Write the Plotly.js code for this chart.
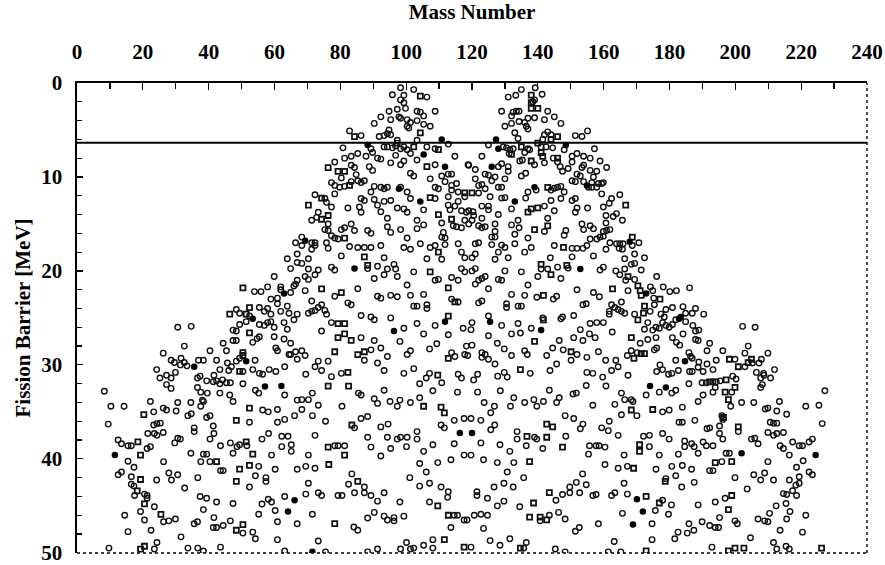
<!DOCTYPE html>
<html>
<head>
<meta charset="utf-8">
<script src="https://cdn.plot.ly/plotly-3.0.1.min.js"></script>
<style>html,body{margin:0;padding:0;background:#fff;}#chart{width:885px;height:565px;}</style>
</head>
<body>
<div id="chart"></div>
<script>
// Mass number (A) and fission barrier (MeV) pairs
const circles = [
[98.3,0.5],[102.3,0.7],[95.8,1.25],[99.3,1.3],[106.3,1.5],[98.3,1.8],[99.3,2.1],[99.8,2.7],[97.3,2.8],[103.3,3],[104.3,3.1],[108.8,3],[94.8,3],[105.3,3.5],[92.3,3.6],[97.8,3.6],[95.3,3.9],[98.3,3.75],[100.3,3.9],[103.3,4],[90.3,4.3],[101.3,4.2],[105.3,4.4],[107.3,4.6],[100.8,4.8],[100.3,4.6],[94.8,5],[82.8,5.1],[94.3,5.4],[95.3,5.5],[91.8,5.7],[93.3,5.6],[86.3,5.6],[103.3,6.1],[97.3,6.1],
[97.3,6.4],[112.8,6.5],[80.8,6.9],[89.3,7],[93.3,6.8],[94.3,6.8],[95.8,6.9],[96.8,6.7],[98.3,7],[99.3,6.8],[100.3,7.1],[106.3,6.8],[108.8,7],[101.3,7.5],[89.8,7.4],[85.3,7.5],[96.8,7.7],[114.8,7.8],[83.3,7.8],[81.3,8],[87.8,7.8],[91.3,8],[92.3,8.1],[103.3,8.2],[99.3,8.3],[78.3,8.4],[95.3,8.5],[98.3,8.7],[108.8,8.7],[118.8,8.7],[83.3,8.75],[84.3,9],[88.8,8.9],[89.8,9.3],[101.3,9.6],[102.3,9.9],[110.8,9.9],[112.8,9.7],[113.8,9.7],[84.8,9.75],
[80.3,10.1],[83.3,10.5],[85.3,10.4],[86.3,10.6],[87.3,10.4],[107.3,10.2],[111.8,10.5],[77.3,10.6],[78.3,10.9],[79.8,11.1],[81.3,11],[90.3,11],[92.3,11.1],[93.3,11.25],[94.3,11.1],[98.3,11.1],[108.8,11.1],[109.8,11.25],[113.8,10.9],[115.3,10.7],[113.8,11.4],[89.3,11.6],[100.3,11.6],[112.8,12.1],[115.8,11.6],[72.3,11.9],[117.8,12.1],[78.3,11.8],[75.3,12.3],[75.8,12.7],[86.3,12.3],[87.3,12.5],[90.3,12.4],[93.3,12.6],[95.3,12.5],[101.3,12.3],[108.8,12.3],[115.8,12.6],
[77.3,13.2],[82.3,13.3],[85.8,13.2],[91.3,13],[97.3,13.3],[99.3,13.4],[105.3,13.5],[112.8,13],[113.3,13.5],[114.8,13.1],[116.8,13.6],[118.3,13.75],[73.3,13.75],[86.3,13.75],[92.3,13.7],[100.3,13.75],[71.3,14.6],[72.8,14.3],[94.3,14.4],[117.8,14.6],[103.3,14.6],[76.3,15],[83.3,15],[81.3,15.4],[94.3,15.3],[105.3,15.1],[110.8,14.9],[114.3,15.2],[115.3,15.3],[116.8,15.4],[75.3,15.6],[76.3,15.7],[80.3,15.6],[84.3,15.7],[88.3,15.7],[89.3,16],[98.3,15.6],[103.3,15.5],[95.3,15.9],[111.3,15.9],[110.8,16.4],
[77.3,16.25],[78.3,16.5],[79.3,16.6],[68.3,16.4],[100.3,16.5],[111.8,16.5],[66.4,17],[71.3,17],[72.3,17],[75.8,17],[68.3,17.3],[71.3,17.7],[72.3,17.3],[76.3,17.6],[82.8,17.4],[85.3,17.5],[87.3,17.5],[89.3,17.5],[92.3,17.3],[99.3,17.5],[101.3,17.7],[104.3,17.1],[107.3,17.5],[108.8,17.3],[111.8,17.2],[115.8,17.1],[116.8,18],[66.9,18.2],[80.3,18.4],[117.8,18.6],[63.9,18.7],[70.3,18.7],[93.3,18.6],[106.3,18.7],[110.8,18.75],[66.9,19.1],[68.3,19.2],[96.3,19.3],[91.3,19.5],[77.3,19.6],[64.9,19.75],[70.3,19.8],[73.3,19.9],[78.3,19.9],[88.3,19.75],[94.3,19.8],[96.8,19.8],[116.8,19.75],
[102.3,20.1],[117.8,20.1],[72.3,20.4],[93.3,20.4],[97.3,20.6],[59.9,20.6],[69.3,20.6],[70.3,20.9],[90.3,20.8],[108.8,21],[109.8,20.9],[113.8,20.7],[115.8,21],[66.9,21],[100.3,21.5],[57.9,21.7],[61.9,21.7],[65.9,21.6],[66.4,21.4],[61.9,22],[64.9,22.3],[53.9,22.2],[55.9,22.2],[69.3,22.1],[85.3,21.9],[78.3,22.7],[91.3,22.7],[92.3,22.9],[95.3,22.6],[97.3,22.75],[101.3,22.6],[105.3,22.5],[113.8,23],[115.8,23.3],[60.9,22.9],[58.9,23],[60.9,23.5],[71.3,23.2],[82.3,23.4],[83.3,23.6],[102.3,23.75],[103.3,23.75],[106.3,23.6],[106.3,24],[55.4,23.9],[57.9,24],[63.9,23.75],[74.3,23.6],[73.3,23.9],
[48.4,24.1],[49.4,24.5],[52.4,24.8],[56.9,24.3],[58.9,24.6],[61.9,24.3],[64.4,24.5],[66.9,24.6],[70.3,24.5],[71.3,24.3],[72.3,24.2],[75.3,24.2],[75.8,24.6],[86.3,24.75],[89.3,24.9],[95.3,25],
[139.2,0.5],[135,0.7],[131,1.5],[133.3,1.3],[141.3,1.2],[139,1.8],[138.5,2],[129,3],[132.5,3.1],[133.5,3],[134.3,3],[132,3.5],[143,3],[145,3.6],[137,3.75],[139,3.7],[142,3.9],[130,4.6],[132,4.3],[134.3,4.1],[136,4.2],[136.5,4.6],[137,4.9],[147,4.3],[133,5.3],[143,5.2],[142,5.5],[144,5.5],[134,5.9],[151.4,5.6],[153.4,5.7],[155.1,5.1],[141.5,6],
[125,6.6],[129.5,6.8],[130.5,6.9],[131.5,7.1],[132.5,7],[137,7],[137.5,7.1],[136,7.4],[141,6.8],[142.5,6.8],[144.5,6.9],[148,7.1],[131.3,7.5],[134.5,8.3],[135.3,8.2],[139,8.7],[142,8.5],[144.7,8],[146,8.4],[150.4,7.8],[150.4,8.4],[151.9,7.5],[153.9,7.8],[155.9,8],[157.2,7],[158.9,8.3],[123,7.8],[119,8.75],[121,9.2],[128,8.9],[129,8.6],[131,8.9],[131,9.4],[146.8,8.9],[147.5,9.4],[149.2,9.1],[153.4,9],[153.9,8.75],[155.9,9.3],[157.9,9.4],[160.9,9],[124,9.7],[125,9.8],[127,10],[135,9.9],[136.3,9.6],[151.9,9.7],[152.9,9.9],[156.9,10],
[121,10.2],[126,10.4],[130,10.2],[150.4,10.4],[151.4,10.5],[153.9,10.5],[156.4,10.6],[158.4,10.7],[159.9,10.6],[122,10.9],[123,10.8],[124,11.25],[128,11.1],[129,11.1],[139.5,11.4],[144,11.4],[145,11.2],[146,11.1],[147,11],[155.4,11.1],[156.4,11.1],[157.9,11.1],[159.4,10.7],[122,11.7],[137,11.6],[148,11.6],[159.4,11.8],[164.9,11.9],[125.5,12.1],[129,12.25],[130,12.2],[136.3,12.25],[144,12.5],[147,12.3],[150.4,12.5],[151.4,12.3],[162.4,12.3],[161.7,12.8],
[119,13.6],[120.3,13.7],[123,13.1],[125,13.1],[125,13.5],[132,13.4],[142,13.1],[145,13.6],[151.4,13.75],[151.9,13.3],[155.1,13.3],[159.9,13.2],[128,14],[120.5,14.1],[123,14.4],[120,14.6],[143,14.4],[134,14.6],[160.7,14.1],[162.9,14.2],[163.9,13.9],[165.7,14.6],[160.7,14.9],[119,15],[122,15.2],[123,15.4],[124,15.3],[127,15],[132,15.1],[134.3,15.4],[142,15.8],[153.4,15],[155.9,15.2],[156.9,15.5],[159.9,15.8],[160.9,15.7],[161.9,15.6],[153.9,15.6],[148.5,15.7],[127,15.8],[133,16.1],[148,16.2],[126,16.4],[127,16.4],[137,16.5],[155.9,16.6],[157.9,16.6],[158.9,16.4],[159.9,16.3],
[122,17],[121,17.1],[126,17.2],[129,17.25],[130,17.5],[133,17.1],[138,17.5],[136,18],[145,17.3],[150.4,17.6],[151.9,17.6],[153.7,17.6],[154.9,17.3],[160.7,17.7],[161.9,17],[163.9,17.1],[164.9,17.1],[165.9,17.1],[164.7,17.6],[165.7,17.7],[168.7,17.3],[170.7,17],[120,18.6],[121,18.2],[127,18.75],[128,18],[131,18.6],[143.8,18.6],[150.4,18.5],[156.9,18.4],[166.4,18.7],[169.4,18.2],[172.4,18.6],[141,19.8],[143,19.8],[146,19.6],[149.2,19.7],[158.9,19.9],[159.9,19.6],[120,20],[121,19.75],[130,20],[135,20.1],[163.7,20],[164.9,20.4],[166.4,19.8],[168.4,19.3],[169.4,19.2],[171.4,19.9],
[121,21.4],[122,21],[123,20.8],[124,20.6],[128,20.9],[129,21],[140,20.6],[147,20.8],[166.7,21],[169.4,20.9],[176.1,20.6],[125,21.9],[137,21.5],[151.9,22],[156.9,22.3],[167.4,22.1],[174.2,21.7],[174.9,22.1],[178.1,21.7],[180.1,22.2],[182.1,22.1],[186.1,21.8],[132,22.5],[136,22.6],[139.7,22.8],[144.7,23],[145.7,22.7],[158.7,22.75],[175.2,22.9],[122,23.4],[123,23.2],[130.5,23.5],[130.5,23.9],[134,23.75],[135,23.75],[153.7,23.6],[154.7,23.5],[162.4,23.6],[163.4,23.9],[165.4,23.3],[175.4,23.6],[178.9,24.1],[180.9,23.9],[184.1,23.8],[161.7,24.3],[161.7,24.6],[164.4,24.1],[165.4,24.3],[166.4,24.5],[169.4,24.6],[174.1,24.3],[177.4,24.6],[178.4,24.9],[184.9,24.5],[186.9,24.5],[187.9,24],[190.4,24.6],[125,24.8],[141.5,25],[147.5,24.9],[150.9,24.75],
[49.4,25.7],[51.4,25.4],[55.4,25.7],[56.9,25.8],[57.9,25.5],[58.9,25.4],[59.9,26],[62.9,25.5],[63.9,26.2],[65.9,25.2],[77.3,25.5],[90.3,25.2],[99.3,26.1],[103.3,25.6],[108.8,25.8],[117.3,26.1],[30.6,26],[34.7,25.9],[47.4,26.3],[48.4,26.4],[55.4,27],[54.7,27.2],[53.4,27.6],[59.9,27],[62.9,27.25],[64.9,27.7],[74.3,26.4],[86.3,27.1],[90.3,27.4],[98.1,27.5],[105.3,26.7],[109.3,27.75],[112.8,26.8],[118.3,28],[32.6,28],[44.4,27.7],[47.4,27.4],[48.4,27.4],[40.4,28.5],[45.4,28.5],[49.4,29.3],[60.4,28.2],[60.9,28.5],[64.4,28.9],[64.9,28.9],[66.4,28.6],[68.3,28.5],[69.3,29],[66.9,29.4],[89.3,28.4],[92.3,28.2],[87.3,29.5],[94.3,29.1],[100.3,28.9],[101.3,28.5],[107.1,28.3],[113.8,28.7],[114.8,29.1],[117.8,28.9],
[26.2,28.75],[28.6,29.5],[29.6,29.75],[31.6,29.3],[32.6,29.75],[33.4,30.1],[31.4,30],[36.9,29.5],[38.4,29.5],[42.4,29.5],[45.7,29.8],[48.4,29.6],[46.9,30.2],[43.4,30.5],[46.1,30.6],[50.4,30.7],[53.4,30.5],[54.1,29.5],[55.4,30.9],[56.4,31],[58.4,30.5],[60.4,30.7],[63.1,30.2],[72.3,30.2],[73.3,29.6],[74.3,30.6],[76.3,29.6],[80.3,30.9],[91.3,29.8],[93.3,30.6],[99.3,30.9],[102.3,30.4],[107.1,30.9],[115.8,31],[116.8,31.4],[110.8,31.9],[24.2,30.5],[25.2,31.4],[27.2,31.1],[28.6,31.4],[29.9,30.8],[36.6,31.4],[37.4,31.2],[39.4,31.7],[41.6,31.1],[42.4,31.7],[44.2,31.6],[45.4,31.9],[46.6,31.9],[43.4,32],[41.4,31.8],[50.4,32],[69.5,31],[77.3,31.25],[104.1,32],[106.1,31.4],[108.1,32.75],[115.6,32.9],
[27.2,32.1],[28.6,32.5],[36.6,32.4],[37.6,32.9],[39.6,33],[43.4,33],[46.4,33.2],[54.2,32.7],[55.2,33],[63.1,33.2],[71.5,33],[85.5,33],[86.3,33.2],[93.3,32.7],[8.3,32.8],[10.3,34.4],[14.3,34.4],[22.3,33.9],[23.3,35],[26.2,34.6],[27.2,34.8],[30.6,34],[30.1,34.9],[34.6,34],[33.7,35.4],[34.7,35.2],[37.6,34.4],[38.4,33.9],[38.1,33.75],[39.4,35.6],[40.4,35.4],[41.4,36.5],[47.4,33.9],[52.4,36.1],[56.4,34.8],[58.1,35],[60.9,34.75],[60.9,36.1],[63.1,35.8],[66.1,35.4],[66.9,33.75],[68.3,33.7],[70.3,33.7],[68.3,34.75],[71.5,35.4],[73.3,34.3],[75.5,36],[80.5,34.4],[84.3,36.7],[86.3,35.7],[88.3,35.5],[90.3,33.6],[91.3,34.1],[95.1,33.9],[97.3,34.4],[98.1,33.75],[101.3,34],[104.1,33.5],[114.6,35.9],[117.6,35.7],[110.6,36.4],[111.6,36.7],[92.3,36.6],[94.5,36.3],
[9.5,36.3],[12.5,38],[13.5,38.4],[15.5,38.6],[16.5,38.6],[21.3,38.9],[22.3,38.7],[21.5,37.3],[23.3,36.4],[24.3,36.25],[25.3,36.2],[24.3,37.5],[23.5,37.3],[26.2,37.2],[29.7,38.3],[30.6,37.8],[31.4,37.9],[35.6,36.7],[35.6,37.1],[34.6,39.4],[38.4,39.5],[39.4,39.5],[37.6,40.3],[40.4,40.3],[40.4,37.9],[41.6,37.3],[43.6,38.6],[46.6,38.3],[47.4,39.4],[48.6,38.7],[49.4,38.5],[51.6,38.6],[56.2,37.9],[58.2,37.3],[62.2,37.6],[64.1,37.6],[62.2,38.7],[65.1,38.5],[65.1,39.2],[59.1,39.6],[72.3,37.5],[70.3,39.6],[78.3,38.6],[79.3,38.6],[81.3,38.6],[88.3,37.7],[89.3,38.75],[92.3,39.7],[94.3,37.7],[95.3,38.9],[97.3,37.9],[98.3,37.7],[100.3,37.7],[100.1,38.7],[103.3,37.1],[103.3,37.9],[105.3,39.2],[108.1,38.5],[113.6,40.1],[114.6,38.4],[117.6,39.6],
[15.5,40.25],[17.3,40.9],[12.5,41.7],[13.5,41.4],[16.5,41.9],[16.5,42.7],[17.3,42.9],[17.5,43.9],[20.5,43.75],[21.3,43.9],[21.3,44.2],[19.3,45.6],[23.5,45.1],[20.5,46.5],[22.5,47.6],[26.3,46.7],[27.9,46.6],[29.9,46.4],[24.2,42.25],[26.3,40.3],[27.9,41.5],[28.7,42.25],[30.6,41.7],[32.7,43.1],[37.4,44],[39.4,44.2],[36.7,42],[38.4,45.4],[35.6,46.9],[36.6,46.7],[14.5,46],[15.5,47.75],[9.7,49.5],[23.5,49.6],[24.3,48.9],[31.6,48.3],[33.7,49.5],[36.7,49.5],[38.4,49.8],[43.6,49.4],[42.4,44.6],[43.6,41.25],[44.4,41.25],[41.6,46.25],[41.4,47.3],[42.4,47.3],[44.4,47.1],[46.6,46.6],[47.4,44.75],[52.4,43],[54.2,41.8],[55.2,40.8],[57.4,42],[57.4,42.4],[60.2,41.1],[56.2,44.8],[55.2,45.9],[58.1,44.3],[59.1,44.6],[60.2,45.5],[60.9,46.7],[63.1,44],[66.9,46.9],[50.4,47.9],[53.4,47.8],[54.2,48.5],[60.9,48.6],[63.1,49.8],
[66.9,41.1],[69.5,40.8],[70.3,42.6],[69.5,43.75],[72.3,41],[73.3,43.6],[74.3,43.9],[71.5,45.9],[73.3,48.75],[75.5,49.9],[79.3,43.9],[80.5,43.9],[82.5,42.7],[83.5,41.6],[84.3,43.6],[84.1,47.25],[85.3,47.6],[87.3,43.6],[87.3,43],[88.3,46.3],[89.3,43.9],[90.3,45.7],[91.3,44.5],[93.3,43.6],[93.3,46.1],[94.3,46.5],[96.3,46.25],[96.3,46.6],[98.1,44.6],[99.3,46.1],[98.3,49.6],[91.3,49.6],[88.3,49.9],[100.1,48.9],[101.1,42],[101.3,49.6],[102.3,49.5],[104.1,40.5],[104.1,42.9],[106.1,41.4],[107.1,42.6],[107.1,44.6],[108.1,48.6],[109.6,40.4],[110.6,43],[112.6,44.1],[112.8,43.5],[113.6,47.3],[114.6,46],[115.6,46],[117.6,46.5],[108.1,49.5],[105.3,49.2],
[120,25.5],[129,25.8],[134,25.6],[138,26.1],[147,25.1],[155.9,25.6],[157.9,25.5],[159.9,25.5],[152.9,26.25],[155.7,26.7],[162.6,26.5],[173.4,25.5],[172.4,26.2],[174.9,26.3],[175.9,26],[176.9,26.1],[177.9,25.5],[178.9,25.8],[179.9,26],[180.9,25.7],[181.9,25.2],[184.9,25.4],[187.1,25.8],[187.9,26.4],[188.9,26.3],[184.1,26.7],[202.2,25.9],[206,26],[119.7,26.25],[125,26.9],[132,26.7],[134.7,26.6],[146.5,27.4],[150.9,27.1],[153.7,27.4],[157.4,27.1],[171.1,27.7],[173.4,27.3],[175.9,27.1],[180.9,27.1],[182.1,27.6],[183.1,27.9],[187.9,27.3],[188.7,27.4],[192.2,27.7],
[120,27.9],[127.7,27.7],[129.8,28.3],[136,28.5],[136.8,28.9],[144.5,28.2],[147.7,28.4],[151.9,28.9],[158.4,28.6],[168.4,28.5],[167.2,29],[170.2,28.7],[175.4,28.4],[176.1,28.2],[185.9,28.7],[186.4,29.1],[186.9,29.3],[191.4,28.5],[196.2,28.5],[203.9,28],[202.9,28.75],[209.9,28.75],[118.7,29],[123,28.7],[124,28.9],[123,29.2],[125,29.4],[127,29.9],[132,29],[142.7,29],[145.7,29.9],[150.1,29.5],[154.9,29.2],[160.6,29.5],[163.7,29.5],[164.4,30.2],[181.9,29.5],[188.9,29.7],[191.4,29.9],[194.2,29.5],[199.9,29.4],[202.9,30.2],[205.2,29.8],[207.2,29.8],[207.9,29.4],[206.4,30.8],[208.6,30.9],[211.9,30.5],
[120.5,31.6],[121.7,31],[127.8,31.2],[129.8,30.8],[130.7,31.3],[137.7,30.9],[143.7,30.6],[154.9,30.8],[156.7,30.9],[159.7,31.3],[162.4,30.6],[167.4,31.1],[176.1,30.7],[177.1,30],[177.9,30.5],[179.7,31],[180.7,30.9],[182.7,30.6],[186.1,30.7],[186.9,30.7],[188.7,30.25],[190.2,30.7],[193.2,30.5],[195.4,31.7],[194.2,31.8],[193.2,31.8],[191.2,31.9],[189.9,31.9],[199.2,31.2],[200.2,31.5],[207.7,31.4],[208.7,31.1],[210.7,31.4],[185.9,32],[193.9,32.4],[208.2,32.1],[207.7,32.4],[227.2,32.75],[121.7,32.9],[128.6,32.75],[143.5,32.7],[150.7,33.1],[151.7,33],[154.7,32.2],[160.7,32.25],[165.4,33],[172.9,33.2],[176.9,32.9],[180.7,33],[181.9,32.7],[190.2,33.2],[193.2,32.9],[198.9,32.9],
[132.7,33.5],[138.8,33.7],[139.7,34.4],[141.7,33.9],[145.7,34],[146.5,33.5],[136,34],[131.7,34.4],[126.8,34.4],[123.7,34],[125.7,35.1],[156.7,34.3],[163.4,34.2],[166.4,33.7],[168.4,33.7],[168.9,33.9],[165.4,35.3],[170.1,35.4],[177.9,35],[179.9,34.8],[183.9,34.5],[188.7,33.9],[198.6,34.4],[201.9,34],[205.6,34],[213.4,33.9],[209.1,34.7],[209.9,34.6],[212.6,34.9],[215.6,35.25],[221.4,34.4],[225.4,34.3],
[119.7,35.7],[122.7,35.9],[125.7,36.9],[126.9,36.4],[133.7,37.1],[133.7,37.9],[139,37.7],[139.7,37.9],[148.3,35.4],[150.9,35.7],[152.9,36.8],[153.7,36.3],[148.5,37.6],[159.4,36.7],[161.7,36],[161.4,37],[164.4,37.5],[172.1,37.6],[173.9,37.5],[177.9,37.3],[179.9,37.9],[182.9,36.1],[183.9,36.1],[187.7,35.9],[191.4,36.8],[192.2,36.7],[195.2,36.5],[196.2,35.8],[195.9,35.4],[195.2,37.3],[196.2,37.9],[200.9,37.1],[204.9,37.9],[205.9,37.8],[206.9,38.4],[209.9,37.2],[210.6,36.1],[211.6,36.2],[212.6,36.2],[211.6,37.5],[212.6,37.3],[214.6,37.2],[213.6,38.6],[214.6,38.9],[217.4,38.2],[219.4,38.6],[220.4,38.6],[222.4,38.2],[223.4,37.9],[226.4,36.25],
[122.7,38.3],[128.5,38.5],[131.5,39.2],[136.5,38.6],[141.5,38.9],[155.4,39.5],[155.7,38.6],[157.7,38.6],[158.6,38.6],[160.4,38.75],[166.2,39.6],[173.9,38.7],[176.9,39.6],[182.7,39.5],[184.6,38.1],[184.6,38.7],[186.7,38.4],[187.5,38.7],[188.7,39.4],[190.2,38.2],[191.2,38.6],[193.2,38.6],[197.2,39.4],[198.2,39.4],[216.4,39.6],[119.7,39.6],[123.5,40.1],[127.7,40.4],[132.7,40.4],[160.4,40.6],[164.4,41],[167.2,40.8],[175.9,41.1],[180.7,40.8],[183.9,40.7],[186.7,41.1],[192.2,41.25],[193.2,41.25],[195.9,40.3],[209.9,40.3],[218.6,40.9],[220.6,40.2],[222.4,41.4],[223.4,41.7],
[130.7,41.4],[135.7,42],[153.6,41.6],[178.9,42.1],[181.9,41.8],[183.7,43],[187.5,42.5],[199.9,42],[205.6,41.7],[207.7,42.25],[208.9,41.5],[211.6,42.25],[216.4,42.25],[219.4,41.9],[219.4,42.6],[218.4,42.8],[217.4,43.4],[121.5,43.5],[121.5,43.9],[124.7,44.2],[126.7,43],[129.7,42.6],[132.5,43],[145.5,44.4],[147.5,43.8],[149.7,43.6],[149.7,43],[151.7,42.5],[152.7,43.6],[154.7,42.75],[156.7,43.9],[157.7,43.8],[162.4,43.9],[163.4,43.6],[166.2,42.6],[167.2,43.75],[177.9,44.4],[180.6,44.9],[188.7,44.9],[193.9,44.6],[196.9,44.2],[203.6,43.2],[214.6,43.7],[215.6,43.8],[218.6,43.9],[215.4,44.75],[212.4,45],[216.6,45.6],
[127.7,45],[129.7,44.5],[134.5,45.1],[165.7,45.8],[175.7,45.5],[179.7,45.9],[210.4,45.8],[221.4,46],[118.5,46.5],[120.7,46],[122.7,45.9],[124.7,46],[140.7,46.6],[143.5,46],[146.3,45.7],[148.3,46.4],[158.4,46.9],[174.7,46.9],[185.9,46.9],[189.9,46.7],[192.2,47.1],[193.9,47.3],[194.9,47.3],[195.2,46.25],[199.9,46.6],[200.6,46.9],[206.9,46.4],[208.9,46.6],[209.9,46.7],[215.6,46.4],[213.6,47.6],[220.4,47.8],[123.5,47.4],[151.4,47.7],[152.6,47.3],[182.6,47.8],[185.4,47.9],[187.4,47.6],[181.6,48.5],[174.7,48.6],[204.6,48.4],[211.6,48.9],[125.5,48.7],[128.5,49.2],[131.5,48.5],[136.5,48.9],[135.7,49.5],[145.3,49.6],[148.3,49.9],[163.2,48.8],[161.4,49.9],[165.2,49.9],[192.9,49.4],[212.6,49.6],[215.4,49.3],[216.4,49.6],[119.7,49.4]
];
const squares = [
[104.3,1.4],[104.3,5.3],[84.3,5.7],[102.3,6.8],[109.8,7.1],[106.3,8.9],[76.3,9],[79.3,9.4],[81.3,9.4],[82.8,10.9],[117.8,11.7],[74.3,12.25],[107.3,12.2],[70.3,13],[109.8,14],[74.3,14.5],[76.3,14.1],[113.8,14.5],[81.3,16.5],[109.8,18],[87.3,18.5],[88.3,19.4],[107.3,20.1],[50.4,21.8],[74.3,21.9],[112.8,21.8],[80.3,22.3],[114.8,23.3],[52.4,23.9],[46.4,24.6],[51.4,24.6],[112.8,24.8],
[138,1.3],[138,2.1],[140,2.7],[138,2.7],[146,5.7],[144,6],[140,6.4],[135,6.8],[132,7.6],[141,7.4],[141.5,7.8],[138,8.3],[146,8],[143,11.1],[120,11.7],[166.7,13],[138,13.4],[137,13.75],[140,13.3],[143,15.2],[139,15.6],[147.8,17.5],[168.7,16.4],[141,19.3],[144,20.4],[148.8,19.4],[167.4,20.6],[170.4,21.6],[162.7,21.9],[171.1,22.1],[171.4,22.6],[141.7,22.6],[177.1,23],[172.4,23.75],[172.1,24.5],
[79.3,25.6],[81.3,25.6],[52.4,26.6],[79.3,27.1],[81.3,26.7],[83.3,27.4],[50.4,28.7],[50.4,29],[78.3,28.6],[85.3,28.9],[87.3,28.6],[112.8,29.3],[49.4,30.7],[82.3,30.8],[109.6,31.1],[76.3,32.25],[82.5,32.25],[20.3,35.3],[48.4,35.9],[52.4,34.6],[83.5,36.4],[105.3,34.4],[110.6,34.5],[111.6,35.1],[18.5,38.2],[19.3,39.6],[42.4,40.3],[51.4,38.2],[53.4,39.5],[76.3,38.75],[81.3,39.6],[19.3,42.2],[18.3,43.4],[20.5,44.8],[25.5,45.9],[19.3,49.6],[20.5,49.3],[48.4,42.4],[49.4,41.1],[52.4,40.7],[48.4,47.6],[50.4,47],[76.5,40.6],[78.3,46.9],[85.3,42.4],[109.6,45],[111.6,48.6],[112.8,46],[117.6,49.4],
[141.7,25.2],[170.4,25.2],[139,27.5],[168.4,27.1],[150.1,28.6],[169.2,29.3],[171.4,28.8],[172.4,28.8],[198.2,29.4],[200.9,30.2],[203.9,29.75],[204.9,29.4],[134.7,30.5],[197.2,31.6],[192.2,31.8],[199.9,32.4],[196.9,32.9],[168.4,34.8],[174.9,34.75],[197.9,33.7],[136.7,37.6],[142.7,36.3],[144.5,36.6],[142.7,37.7],[196.4,35.6],[200.9,36.6],[147.5,38.75],[170.9,38.5],[170.9,39.2],[137.5,40.3],[169.1,41],[193.9,40.4],[198.9,40.3],[178.7,42.4],[143.5,43.6],[172.9,44],[176.9,44.7],[198.9,43.9],[138.7,44.7],[197.9,45.4],[137.5,46.2],[140.7,46.2],[142.7,46.5],[134.7,49.5],[172.9,49.8],[197.9,49.8],[199.9,49.5],[202.6,49.5],[226.2,49.5]
];
const solids = [
[110.8,6],[88.3,6.6],[105.3,7.6],[111.8,8.9],[97.8,11.25],[104.3,12.6],[69.3,16.8],[84.3,19.75],[62.9,22.4],
[127.3,6],[128,7],[148.5,6.6],[126,8.9],[139,11.1],[154.9,10.9],[133,12.6],[167.9,16.9],[152.9,19.8],[172.9,22.4],[183.4,24.9],
[53.4,25.1],[96.3,26.4],[111.8,25.4],[51.4,29.6],[35.6,30.2],[57.1,32.3],[62.1,32.25],[116.3,37.25],[11.5,39.6],[64.1,45.6],[66.1,44.4],[71.5,49.9],
[125.5,25.4],[141,26.3],[182.9,25.1],[184.7,29.6],[174.1,32.25],[178.9,32.4],[120,37.25],[201.9,39.4],[224.4,39.6],[170.1,44.3],[171.9,45.6],[168.9,47]
];
const xTicks = [0,20,40,60,80,100,120,140,160,180,200,220,240];
const yTicks = [0,10,20,30,40,50];
const cutLevel = 6.35; // horizontal reference line (MeV)

const xs = a => a.map(p => p[0]);
const ys = a => a.map(p => p[1]);
const serif = {family: '"Liberation Serif", "Times New Roman", serif', size: 21, color: '#000', weight: 'bold'};

const traces = [
  {x: xs(circles), y: ys(circles), type: 'scatter', mode: 'markers', hoverinfo: 'skip',
   marker: {symbol: 'circle-open', size: 5.5, color: '#111', line: {width: 1.4, color: '#111'}}},
  {x: xs(squares), y: ys(squares), type: 'scatter', mode: 'markers', hoverinfo: 'skip',
   marker: {symbol: 'square-open', size: 5, color: '#111', line: {width: 1.8, color: '#111'}}},
  {x: xs(solids), y: ys(solids), type: 'scatter', mode: 'markers', hoverinfo: 'skip',
   marker: {symbol: 'circle', size: 6.5, color: '#000', line: {width: 0}}}
];

const layout = {
  width: 885, height: 565,
  margin: {l: 77, r: 18, t: 83, b: 12, pad: 0},
  paper_bgcolor: '#fff', plot_bgcolor: '#fff',
  showlegend: false,
  font: serif,
  xaxis: {
    side: 'top', range: [0, 240], tickvals: xTicks, ticktext: xTicks.map(String),
    ticks: 'inside', ticklen: 7, tickwidth: 1.2, tickcolor: '#000',
    minor: {tickvals: [10,30,50,70,90,110,130,150,170,190,210,230], ticks: 'inside', ticklen: 6, tickwidth: 1.2, tickcolor: '#000'},
    showline: true, linecolor: '#000', linewidth: 1.6, mirror: false,
    showgrid: false, zeroline: false, tickfont: serif, ticklabelstandoff: 14, ticklabeloverflow: 'allow',
    title: {text: 'Mass Number', font: serif, standoff: 18}
  },
  yaxis: {
    range: [50.02, 0], tickvals: yTicks, ticktext: yTicks.map(String),
    ticks: 'inside', ticklen: 6, tickwidth: 1.2, tickcolor: '#000',
    minor: {tickvals: [2,4,6,8,12,14,16,18,22,24,26,28,32,34,36,38,42,44,46,48], ticks: 'inside', ticklen: 5, tickwidth: 1.2, tickcolor: '#000'},
    showline: true, linecolor: '#000', linewidth: 1.6, mirror: false,
    showgrid: false, zeroline: false, tickfont: serif, ticklabelstandoff: 9, ticklabeloverflow: 'allow',
    title: {text: 'Fission Barrier [MeV]', font: serif, standoff: 5}
  },
  shapes: [
    {type: 'line', xref: 'paper', yref: 'y', x0: 0, x1: 1, y0: cutLevel, y1: cutLevel, line: {color: '#000', width: 2}},
    {type: 'line', xref: 'paper', yref: 'paper', x0: 1, x1: 1, y0: 0, y1: 1, line: {color: '#000', width: 1.4, dash: 'dot'}},
    {type: 'line', xref: 'paper', yref: 'paper', x0: 0, x1: 1, y0: 0, y1: 0, line: {color: '#000', width: 1.4, dash: 'dot'}}
  ]
};

Plotly.newPlot('chart', traces, layout, {displayModeBar: false, staticPlot: true});
</script>
</body>
</html>
